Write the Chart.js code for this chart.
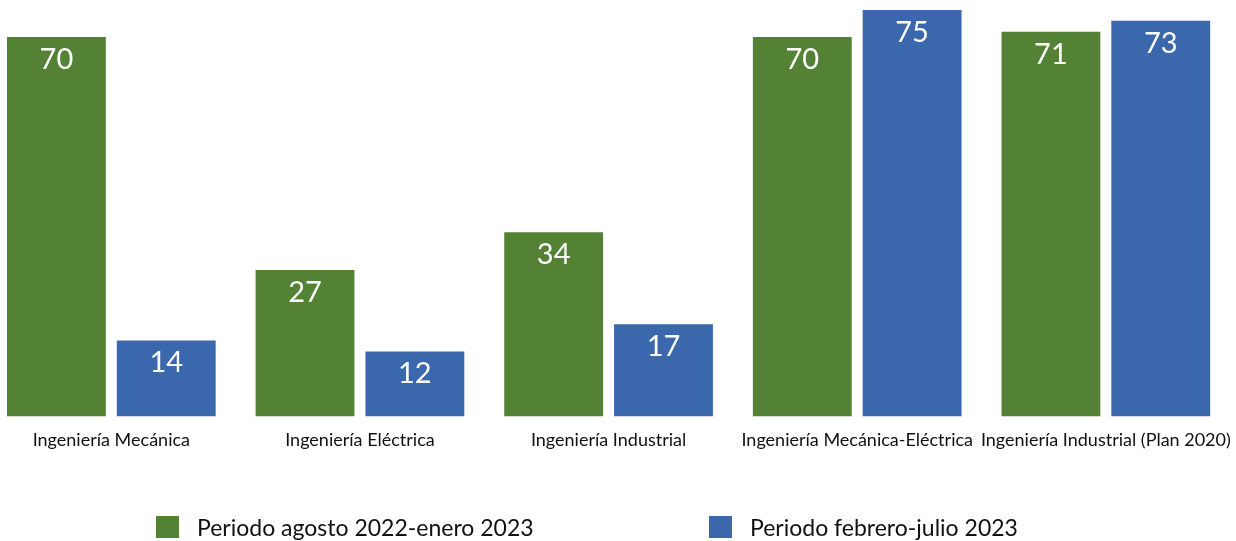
<!DOCTYPE html>
<html lang="es">
<head>
<meta charset="utf-8">
<title>Periodos por carrera</title>
<script src="https://cdn.jsdelivr.net/npm/chart.js@4.4.1/dist/chart.umd.min.js"></script>
<style>
    html, body { margin: 0; padding: 0; background: #fff; overflow: hidden; }
    body { width: 1236px; height: 541px; position: relative; font-family: Lato, "Open Sans", sans-serif; }
    #chartWrap { position: absolute; left: -13px; top: 0; width: 1249px; height: 541px; }
    .legend-item { position: absolute; top: 516px; display: flex; align-items: center; height: 22px; font-size: 23px; color: #111; white-space: nowrap; }
    .legend-box { width: 23px; height: 22px; margin-right: 18px; }
</style>
</head>
<body>
<div id="chartWrap"><canvas id="chart"></canvas></div>
<div class="legend-item" style="left:156px"><span class="legend-box" style="background:#548235"></span>Periodo agosto 2022-enero 2023</div>
<div class="legend-item" style="left:709px"><span class="legend-box" style="background:#3b67ad"></span>Periodo febrero-julio 2023</div>
<script>
// Data
const categories = [
    'Ingeniería Mecánica',
    'Ingeniería Eléctrica',
    'Ingeniería Industrial',
    'Ingeniería Mecánica-Eléctrica',
    'Ingeniería Industrial (Plan 2020)'
];
const seriesNames = ['Periodo agosto 2022-enero 2023', 'Periodo febrero-julio 2023'];
const periodAgoEne = [70, 27, 34, 70, 71];
const periodFebJul = [14, 12, 17, 75, 73];

const GREEN = '#548235';
const BLUE = '#3b67ad';

// Draw the value inside the top of every bar
const valueLabels = {
    id: 'valueLabels',
    afterDatasetsDraw(chart) {
        const ctx = chart.ctx;
        ctx.save();
        ctx.fillStyle = '#ffffff';
        ctx.font = '29px Lato, "Open Sans", sans-serif';
        ctx.textAlign = 'center';
        ctx.textBaseline = 'top';
        chart.data.datasets.forEach((ds, i) => {
            const meta = chart.getDatasetMeta(i);
            meta.data.forEach((bar, j) => {
                ctx.fillText(String(ds.data[j]), bar.x, bar.y + 8);
            });
        });
        ctx.restore();
    }
};

try {
    new Chart(document.getElementById('chart'), {
        type: 'bar',
        data: {
            labels: categories,
            datasets: [{
                label: seriesNames[0],
                data: periodAgoEne,
                backgroundColor: GREEN,
                categoryPercentage: 0.8835,
                barPercentage: 0.9
            }, {
                label: seriesNames[1],
                data: periodFebJul,
                backgroundColor: BLUE,
                categoryPercentage: 0.8835,
                barPercentage: 0.9
            }]
        },
        options: {
            responsive: true,
            maintainAspectRatio: false,
            animation: false,
            layout: { padding: { left: 0, right: 2, top: 0, bottom: 85 } },
            plugins: {
                legend: { display: false },
                tooltip: { enabled: false }
            },
            scales: {
                x: {
                    grid: { display: false },
                    border: { display: false },
                    ticks: {
                        color: '#111',
                        padding: 5,
                        maxRotation: 0,
                        autoSkip: false,
                        font: { family: 'Lato, "Open Sans", sans-serif', size: 18 }
                    }
                },
                y: {
                    display: false,
                    min: 0,
                    max: 76.85
                }
            }
        },
        plugins: [valueLabels]
    });
} catch (error) {
    console.error('Error initializing chart:', error);
}
</script>
</body>
</html>
